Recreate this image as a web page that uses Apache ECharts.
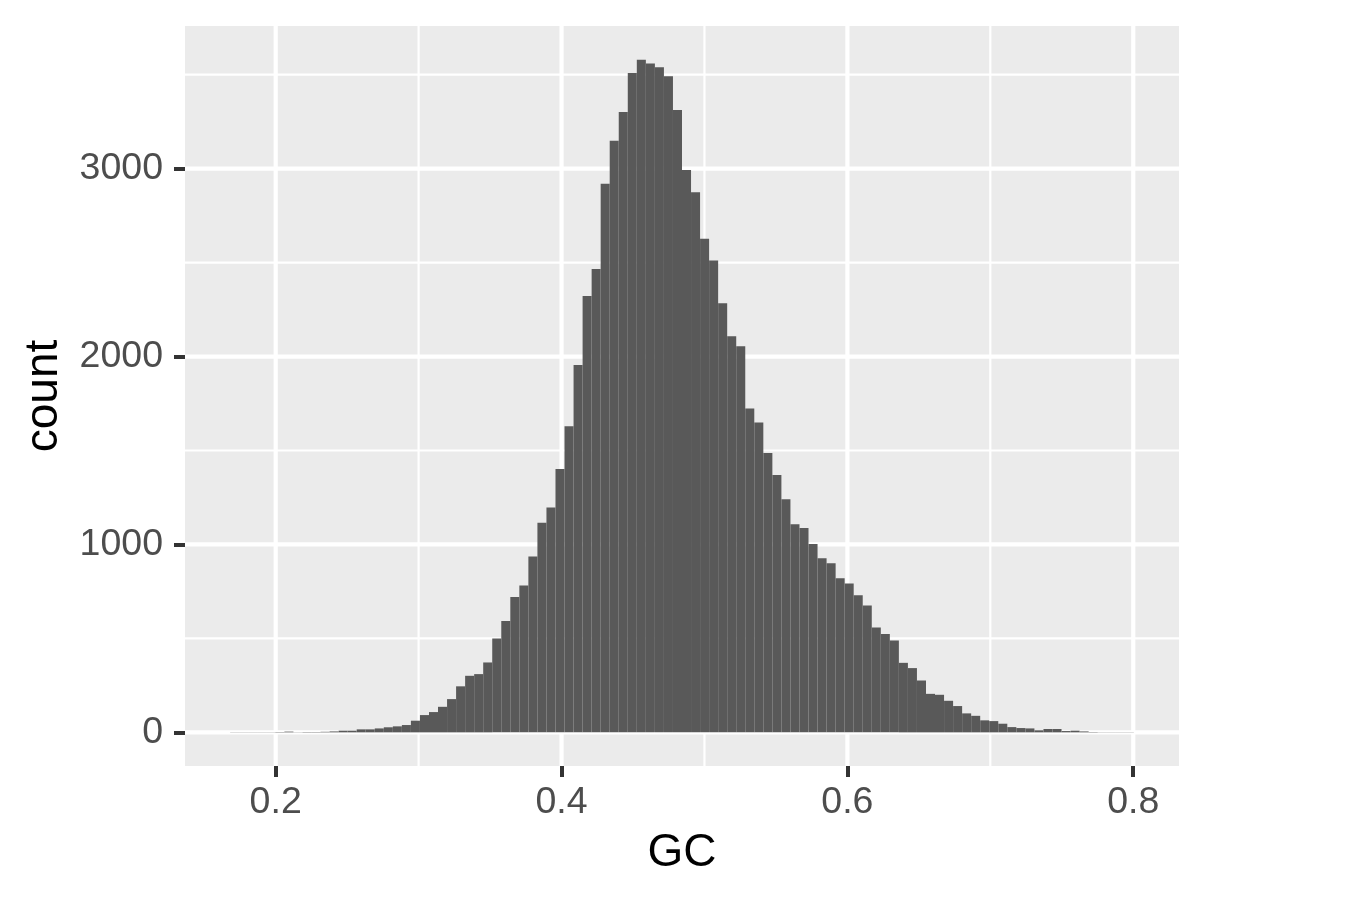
<!DOCTYPE html>
<html><head><meta charset="utf-8">
<script src="https://cdn.jsdelivr.net/npm/echarts@6/dist/echarts.min.js"></script>
<style>html,body{margin:0;padding:0;background:#fff}#chart{width:1362px;height:906px}</style>
</head><body><div id="chart"></div>
<script>
// Histogram bins (GC content), 100 bins
const binStart = 0.16817;
const binWidth = 0.0063223;
const counts = [
  1, 1, 1, 1, 1, 2, 4, 1, 2, 2,
  3, 5, 9, 9, 16, 16, 21, 27, 32, 39,
  62, 92, 108, 136, 177, 245, 301, 310, 372, 500,
  592, 720, 782, 936, 1115, 1197, 1401, 1629, 1955, 2322,
  2466, 2920, 3149, 3301, 3509, 3580, 3560, 3539, 3491, 3312,
  2993, 2874, 2627, 2511, 2284, 2108, 2055, 1723, 1649, 1487,
  1369, 1241, 1108, 1087, 1003, 927, 900, 820, 792, 730,
  675, 558, 523, 489, 370, 342, 276, 205, 200, 168,
  140, 101, 88, 64, 60, 46, 28, 23, 21, 11,
  18, 18, 7, 9, 5, 2, 1, 1, 1, 1
];
const xTicks = [0.2, 0.4, 0.6, 0.8];
const xMinor = [0.3, 0.5, 0.7];
const yTicks = [0, 1000, 2000, 3000];
const yMinor = [500, 1500, 2500, 3500];
const xTitle = 'GC';
const yTitle = 'count';

const nBins = counts.length;
const xLo = binStart, xHi = binStart + nBins * binWidth;
const xMin = xLo - 0.05 * (xHi - xLo), xMax = xHi + 0.05 * (xHi - xLo);
const cMax = Math.max(...counts);
const yMin = -0.05 * cMax, yMax = cMax * 1.05;

const FONT = "'Liberation Sans', Arial, Helvetica, sans-serif";
const chart = echarts.init(document.getElementById('chart'), null, {renderer: 'canvas'});

function vLines(vals, w, z) {
  return {
    type: 'custom', z: z, silent: true,
    data: vals.map(v => [v, 0]),
    encode: {x: 0, y: 1},
    renderItem: (p, api) => {
      const a = api.coord([api.value(0), yMin]);
      const b = api.coord([api.value(0), yMax]);
      return {type: 'line', shape: {x1: a[0], y1: a[1], x2: b[0], y2: b[1]}, style: {stroke: '#FFFFFF', lineWidth: w}};
    }
  };
}
function hLines(vals, w, z) {
  return {
    type: 'custom', z: z, silent: true,
    data: vals.map(v => [xMin, v]),
    encode: {x: 0, y: 1},
    renderItem: (p, api) => {
      const a = api.coord([xMin, api.value(1)]);
      const b = api.coord([xMax, api.value(1)]);
      return {type: 'line', shape: {x1: a[0], y1: a[1], x2: b[0], y2: b[1]}, style: {stroke: '#FFFFFF', lineWidth: w}};
    }
  };
}

const option = {
  animation: false,
  backgroundColor: '#FFFFFF',
  grid: {left: 185, right: 183, top: 26, bottom: 140, show: true, backgroundColor: '#EBEBEB', borderWidth: 0, outerBoundsMode: 'none'},
  xAxis: {
    type: 'value', min: xMin, max: xMax,
    axisLine: {show: false, onZero: false},
    splitLine: {show: false},
    axisTick: {show: true, customValues: xTicks, length: 11, lineStyle: {color: '#333333', width: 4}},
    axisLabel: {customValues: xTicks, margin: 18, fontSize: 37.5, color: '#4D4D4D', fontFamily: FONT,
      formatter: v => String(Math.round(v * 10) / 10)},
    name: xTitle, nameLocation: 'middle', nameGap: 64,
    nameTextStyle: {fontSize: 46, color: '#000000', fontFamily: FONT}
  },
  yAxis: {
    type: 'value', min: yMin, max: yMax,
    axisLine: {show: false, onZero: false},
    splitLine: {show: false},
    axisTick: {show: true, customValues: yTicks, length: 11, lineStyle: {color: '#333333', width: 4}},
    axisLabel: {customValues: yTicks, margin: 22, fontSize: 37.5, color: '#4D4D4D', fontFamily: FONT,
      formatter: v => String(Math.round(v))},
    name: yTitle, nameLocation: 'middle', nameGap: 118, nameRotate: 90,
    nameTextStyle: {fontSize: 46, color: '#000000', fontFamily: FONT}
  },
  series: [
    vLines(xMinor, 2.2, 1),
    hLines(yMinor, 2.2, 1),
    vLines(xTicks, 4.2, 2),
    hLines(yTicks, 4.2, 2),
    {
      type: 'custom', z: 5, silent: true,
      data: counts.map((c, i) => [binStart + i * binWidth, binStart + (i + 1) * binWidth, c]),
      encode: {x: [0, 1], y: 2},
      renderItem: (p, api) => {
        const a = api.coord([api.value(0), api.value(2)]);
        const b = api.coord([api.value(1), 0]);
        return {type: 'rect', shape: {x: a[0], y: a[1], width: b[0] - a[0], height: b[1] - a[1]},
          style: {fill: '#595959'}};
      }
    }
  ]
};
chart.setOption(option);
</script></body></html>
